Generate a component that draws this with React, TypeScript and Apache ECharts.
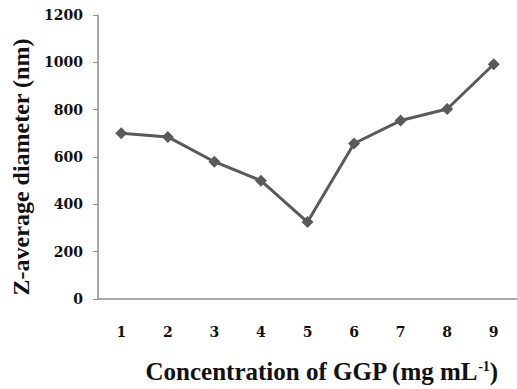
import React, { useEffect, useRef } from "react";
import * as echarts from "echarts";

const categories = ["1", "2", "3", "4", "5", "6", "7", "8", "9"];
const zAverage = [700, 685, 580, 500, 325, 657, 754, 803, 992];
const yTicks = { min: 0, max: 1200, interval: 200 };

export default function App() {
  const ref = useRef<HTMLDivElement>(null);
  useEffect(() => {
    if (!ref.current) return;
    const chart = echarts.init(ref.current, undefined, { renderer: "svg" });
    const titleFont = "Liberation Serif";
    const tickFont = "DejaVu Serif";
    chart.setOption({
      animation: false,
      backgroundColor: "#ffffff",
      grid: { left: 98, top: 15, width: 420, height: 285, containLabel: false },
      xAxis: {
        type: "category",
        data: categories,
        boundaryGap: true,
        axisLine: { lineStyle: { color: "#8c8c8c", width: 1.5 } },
        axisTick: { show: false },
        axisLabel: {
          margin: 26,
          fontFamily: tickFont,
          fontWeight: "bold",
          fontSize: 14,
          color: "#111",
        },
        name: "{b|Concentration of GGP (mg mL}{s|-1}{b|)}",
        nameLocation: "middle",
        nameGap: 60,
        nameTextStyle: {
          padding: [0, 0, 0, 28],
          rich: {
            b: { fontFamily: titleFont, fontWeight: "bold", fontSize: 25, color: "#111" },
            s: {
              fontFamily: titleFont,
              fontWeight: "bold",
              fontSize: 14,
              color: "#111",
              verticalAlign: "top",
              padding: [0, 0, 10, 0],
            },
          },
        },
      },
      yAxis: {
        type: "value",
        min: yTicks.min,
        max: yTicks.max,
        interval: yTicks.interval,
        splitLine: { show: false },
        axisLine: { show: true, lineStyle: { color: "#8c8c8c", width: 1.5 } },
        axisTick: { show: true, length: 5, lineStyle: { color: "#8c8c8c" } },
        axisLabel: {
          margin: 15,
          fontFamily: tickFont,
          fontWeight: "bold",
          fontSize: 14,
          color: "#111",
          formatter: (v: number) => String(v),
        },
        name: "Z-average diameter (nm)",
        nameLocation: "middle",
        nameGap: 58,
        nameTextStyle: {
          fontFamily: titleFont,
          fontWeight: "bold",
          fontSize: 24,
          color: "#111",
          padding: [0, 20, 0, 0],
        },
      },
      series: [
        {
          type: "line",
          data: zAverage,
          symbol: "diamond",
          symbolSize: 12,
          lineStyle: { color: "#5a5a5a", width: 3 },
          itemStyle: { color: "#5a5a5a" },
        },
      ],
    });
    return () => chart.dispose();
  }, []);
  return <div ref={ref} style={{ width: 517, height: 389, position: "absolute", left: 0, top: 0 }} />;
}
